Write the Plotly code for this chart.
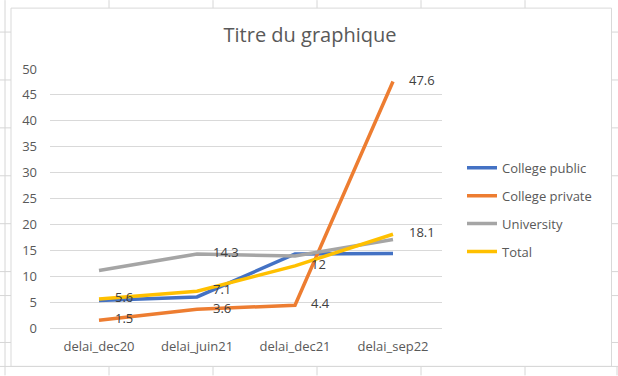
import plotly.graph_objects as go

categories = ["delai_dec20", "delai_juin21", "delai_dec21", "delai_sep22"]
college_public = [5.3, 6.0, 14.3, 14.4]
college_private = [1.5, 3.6, 4.4, 47.6]
university = [11.1, 14.3, 13.9, 17.1]
total = [5.6, 7.1, 12.0, 18.1]

public_labels = ["", "", "", ""]
private_labels = ["1.5", "3.6", "4.4", "47.6"]
university_labels = ["", "14.3", "", ""]
total_labels = ["5.6", "7.1", "12", "18.1"]

series = [
    ("College public", college_public, public_labels, "#4472C4"),
    ("College private", college_private, private_labels, "#ED7D31"),
    ("University", university, university_labels, "#A5A5A5"),
    ("Total", total, total_labels, "#FFC000"),
]

W, H = 618, 376
L, R, T, B = 50, 442, 69, 328.5
FONT = "Open Sans"

def px(x):
    return (x - L) / (R - L)

def py(y):
    return (B - y) / (B - T)

fig = go.Figure()
for i, (name, vals, labels, color) in enumerate(series):
    fig.add_trace(go.Scatter(
        x=categories, y=vals, name=name, mode="lines+markers+text",
        line=dict(color=color, width=3.5),
        marker=dict(size=24, color="rgba(0,0,0,0)"),
        text=labels, textposition="middle right",
        textfont=dict(family=FONT, size=13, color="#404040"),
        legendgroup=name, cliponaxis=False,
    ))

shapes = []
grid = "#D6D6D6"
for cx in [109, 213, 317, 421, 525]:
    shapes.append(dict(type="line", xref="paper", yref="paper", x0=px(cx), x1=px(cx), y0=py(0), y1=py(8), line=dict(color=grid, width=1)))
    shapes.append(dict(type="line", xref="paper", yref="paper", x0=px(cx), x1=px(cx), y0=py(367), y1=py(376), line=dict(color=grid, width=1)))
shapes.append(dict(type="line", xref="paper", yref="paper", x0=px(5), x1=px(5), y0=py(0), y1=py(376), line=dict(color=grid, width=1)))
shapes.append(dict(type="line", xref="paper", yref="paper", x0=px(617), x1=px(617), y0=py(367), y1=py(376), line=dict(color=grid, width=1)))
for ry in [32, 80, 128, 176, 224, 272, 296, 343]:
    shapes.append(dict(type="line", xref="paper", yref="paper", x0=px(0), x1=px(11), y0=py(ry), y1=py(ry), line=dict(color=grid, width=1)))
    shapes.append(dict(type="line", xref="paper", yref="paper", x0=px(611), x1=px(618), y0=py(ry), y1=py(ry), line=dict(color=grid, width=1)))
shapes.append(dict(type="line", xref="paper", yref="paper", x0=px(0), x1=px(618), y0=py(367), y1=py(367), line=dict(color=grid, width=1)))
shapes.append(dict(type="rect", xref="paper", yref="paper", x0=px(11), x1=px(611.5), y0=py(8), y1=py(367), line=dict(color="#D9D9D9", width=1), fillcolor="rgba(0,0,0,0)"))

fig.update_layout(
    width=W, height=H,
    margin=dict(l=L, r=W - R, t=T, b=H - B),
    paper_bgcolor="white", plot_bgcolor="white",
    title=dict(text="Titre du graphique", x=px(310), xref="paper", xanchor="center",
               y=1 - 35 / H, yanchor="middle",
               font=dict(family=FONT, size=20, color="#595959")),
    font=dict(family=FONT, size=13, color="#595959"),
    showlegend=True,
    legend=dict(x=px(462), xanchor="left", y=py(153), yanchor="top",
                font=dict(family=FONT, size=13, color="#595959"),
                tracegroupgap=8, bgcolor="rgba(0,0,0,0)", itemwidth=30),
    shapes=shapes,
)
fig.update_xaxes(range=[-0.5, 3.5], showgrid=False, showline=True, linecolor="#D9D9D9", linewidth=1,
                 ticks="", ticklabelstandoff=6, zeroline=False,
                 tickfont=dict(family=FONT, size=13, color="#595959"))
fig.update_yaxes(range=[0, 50], dtick=5, showgrid=True, gridcolor="#D9D9D9", gridwidth=1,
                 zeroline=False, showline=False, ticks="", ticklabelstandoff=12,
                 tickfont=dict(family=FONT, size=13, color="#595959"))

fig.write_html("out.html", config={"displayModeBar": False},
               post_script="document.body.style.margin='0';document.body.style.padding='0';document.documentElement.style.overflow='hidden';")
